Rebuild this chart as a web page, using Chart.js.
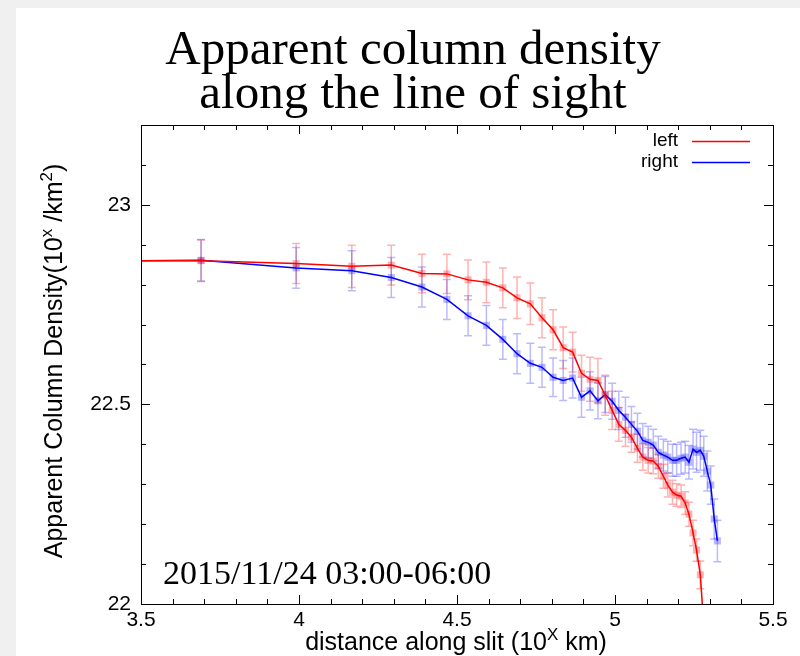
<!DOCTYPE html>
<html><head><meta charset="utf-8">
<script src="https://cdn.jsdelivr.net/npm/chart.js@4/dist/chart.umd.min.js"></script>
<style>
html,body{margin:0;padding:0;background:#f0f0f0;overflow:hidden;}
#card{position:absolute;left:16px;top:8px;width:784px;height:648px;background:#fff;}
#wrap{position:absolute;left:0;top:0;width:800px;height:656px;}
</style></head><body>
<div id="card"></div>
<div id="wrap"><canvas id="c" width="800" height="656"></canvas></div>
<script>
// ---- data ----
const titleLines = ['Apparent column density', 'along the line of sight'];
const annotation = '2015/11/24 03:00-06:00';
const seriesNames = ['left', 'right'];
const xTicks = [3.5, 4, 4.5, 5, 5.5];
const yTicks = [22, 22.5, 23];

// distance along slit, log10(km)
const distance = [3.5, 3.690, 3.991, 4.167, 4.292, 4.389, 4.468, 4.535, 4.593, 4.645,
  4.690, 4.732, 4.769, 4.804, 4.836, 4.866, 4.894, 4.921, 4.946, 4.969,
  4.991, 5.012, 5.033, 5.052, 5.071, 5.088, 5.105, 5.121, 5.137, 5.153,
  5.167, 5.182, 5.195, 5.209, 5.222, 5.234, 5.247, 5.258, 5.270, 5.281,
  5.292, 5.303, 5.314, 5.324];

const leftValues = [22.860, 22.860, 22.853, 22.846, 22.849, 22.828, 22.827, 22.812, 22.806, 22.792,
  22.767, 22.752, 22.717, 22.687, 22.642, 22.631, 22.578, 22.563, 22.560, 22.523,
  22.485, 22.450, 22.435, 22.418, 22.390, 22.368, 22.360, 22.358, 22.345, 22.320,
  22.298, 22.280, 22.273, 22.270, 22.253, 22.225, 22.178, 22.135, 22.073, 21.945];
const leftErrors = [null, 0.052, 0.050, 0.053, 0.050, 0.048, 0.049, 0.050, 0.051, 0.050,
  0.052, 0.052, 0.050, 0.050, 0.052, 0.050, 0.045, 0.055, 0.055, 0.050,
  0.048, 0.042, 0.040, 0.038, 0.035, 0.033, 0.032, 0.032, 0.030, 0.030,
  0.030, 0.030, 0.028, 0.028, 0.028, 0.030, 0.032, 0.028, 0.035, 0.035];

const rightValues = [22.860, 22.861, 22.842, 22.835, 22.818, 22.794, 22.763, 22.722, 22.698, 22.663,
  22.627, 22.603, 22.593, 22.568, 22.560, 22.566, 22.518, 22.534, 22.509, 22.525,
  22.508, 22.485, 22.468, 22.450, 22.433, 22.410, 22.405, 22.398, 22.380, 22.373,
  22.368, 22.360, 22.360, 22.365, 22.368, 22.355, 22.388, 22.380, 22.385, 22.370,
  22.333, 22.298, 22.213, 22.158];
const rightErrors = [null, 0.052, 0.051, 0.050, 0.050, 0.050, 0.050, 0.050, 0.050, 0.050,
  0.050, 0.050, 0.050, 0.048, 0.050, 0.050, 0.050, 0.048, 0.045, 0.045,
  0.045, 0.048, 0.050, 0.045, 0.045, 0.042, 0.040, 0.040, 0.040, 0.040,
  0.040, 0.040, 0.040, 0.040, 0.040, 0.042, 0.050, 0.050, 0.050, 0.050,
  0.050, 0.048, 0.050, 0.052];

// ---- styling ----
const SANS = '"Liberation Sans", Arial, sans-serif';
const SERIF = '"Liberation Serif", "Times New Roman", serif';
const RED = '#ff0000', BLUE = '#0000ff';
const RED_T = 'rgba(255,0,0,0.3)', BLUE_T = 'rgba(0,0,255,0.27)';
const RED_M = 'rgba(255,0,0,0.3)', BLUE_M = 'rgba(0,0,255,0.28)';

function pts(vals) { return vals.map((v, i) => ({ x: distance[i], y: v })); }

const errorsBySet = [leftErrors, rightErrors];
const colorsT = [RED_T, BLUE_T];

function drawRich(ctx, parts, x, y, size, align) {
  const supSize = Math.round(size * 0.66);
  let w = 0;
  parts.forEach(p => { ctx.font = (p.sup ? supSize : size) + 'px ' + SANS; p.w = ctx.measureText(p.t).width; w += p.w; });
  let cx = align === 'center' ? x - w / 2 : x;
  ctx.textAlign = 'left';
  ctx.textBaseline = 'alphabetic';
  parts.forEach(p => {
    ctx.font = (p.sup ? supSize : size) + 'px ' + SANS;
    ctx.fillText(p.t, cx, p.sup ? y - size * 0.42 : y);
    cx += p.w;
  });
}

const decor = {
  id: 'decor',
  beforeDatasetsDraw(chart) {
    const { ctx, chartArea: a, scales: { x, y } } = chart;
    ctx.save();
    ctx.beginPath(); ctx.rect(a.left, a.top, a.right - a.left, a.bottom - a.top); ctx.clip();
    chart.data.datasets.forEach((ds, di) => {
      const errs = errorsBySet[di];
      ctx.strokeStyle = colorsT[di];
      ctx.lineWidth = 1.5;
      ds.data.forEach((p, i) => {
        const e = errs[i];
        if (e == null) return;
        const px = x.getPixelForValue(p.x);
        const y1 = y.getPixelForValue(p.y + e), y2 = y.getPixelForValue(p.y - e);
        ctx.beginPath();
        ctx.moveTo(px, y1); ctx.lineTo(px, y2);
        ctx.moveTo(px - 4, y1); ctx.lineTo(px + 4, y1);
        ctx.moveTo(px - 4, y2); ctx.lineTo(px + 4, y2);
        ctx.stroke();
      });
    });
    ctx.restore();
  },
  afterDraw(chart) {
    const { ctx, chartArea: a, scales: { x, y } } = chart;
    ctx.save();
    // frame
    ctx.strokeStyle = '#000'; ctx.lineWidth = 1;
    ctx.strokeRect(Math.round(a.left) + 0.5, Math.round(a.top) + 0.5, Math.round(a.right - a.left), Math.round(a.bottom - a.top));
    // ticks, major + minor, mirrored on all sides
    ctx.beginPath();
    for (let i = 0; i <= 20; i++) {
      const v = x.min + i * 0.1;
      const px = Math.round(x.getPixelForValue(v)) + 0.5;
      const L = (i % 5 === 0) ? 9 : 5;
      ctx.moveTo(px, a.bottom); ctx.lineTo(px, a.bottom - L);
      ctx.moveTo(px, a.top); ctx.lineTo(px, a.top + L);
    }
    for (let i = 0; i <= 12; i++) {
      const v = y.min + i * 0.1;
      const py = Math.round(y.getPixelForValue(v)) + 0.5;
      const L = (i % 5 === 0) ? 9 : 5;
      ctx.moveTo(a.left, py); ctx.lineTo(a.left + L, py);
      ctx.moveTo(a.right, py); ctx.lineTo(a.right - L, py);
    }
    ctx.stroke();

    ctx.fillStyle = '#000';
    // title
    ctx.font = '49px ' + SERIF;
    ctx.textAlign = 'center'; ctx.textBaseline = 'alphabetic';
    ctx.fillText(titleLines[0], 413, 64);
    ctx.fillText(titleLines[1], 413, 108);
    // annotation
    ctx.font = '34px ' + SERIF;
    ctx.textAlign = 'left';
    ctx.fillText(annotation, 163, 584);
    // axis titles
    drawRich(ctx, [{ t: 'distance along slit (10' }, { t: 'X', sup: true }, { t: ' km)' }], 456, 650, 25, 'center');
    ctx.save();
    ctx.translate(62, 361); ctx.rotate(-Math.PI / 2);
    drawRich(ctx, [{ t: 'Apparent Column Density(10' }, { t: 'x', sup: true }, { t: ' /km' }, { t: '2', sup: true }, { t: ')' }], 0, 0, 25, 'center');
    ctx.restore();
    // legend
    ctx.font = '19px ' + SANS;
    ctx.textAlign = 'right';
    const cols = [RED, BLUE];
    const ly = [141, 162];
    chart.data.datasets.forEach((ds, i) => {
      ctx.fillStyle = '#000';
      ctx.fillText(ds.label, 678, ly[i] + 5);
      ctx.strokeStyle = cols[i]; ctx.lineWidth = 1.3;
      ctx.beginPath(); ctx.moveTo(692, ly[i] + 0.5); ctx.lineTo(750, ly[i] + 0.5); ctx.stroke();
    });
    ctx.restore();
  }
};

const tickFont = { family: SANS, size: 21 };

new Chart(document.getElementById('c'), {
  type: 'line',
  data: {
    datasets: [
      { label: seriesNames[0], data: pts(leftValues), borderColor: RED, borderWidth: 1.5,
        pointStyle: 'rect', pointRadius: c => c.dataIndex === 0 ? 0 : 5, pointBorderWidth: 0,
        pointBackgroundColor: RED_M, tension: 0, clip: 0 },
      { label: seriesNames[1], data: pts(rightValues), borderColor: BLUE, borderWidth: 1.5,
        pointStyle: 'rect', pointRadius: c => c.dataIndex === 0 ? 0 : 5, pointBorderWidth: 0,
        pointBackgroundColor: BLUE_M, tension: 0, clip: 0 }
    ]
  },
  options: {
    responsive: false, animation: false, devicePixelRatio: 1,
    layout: { padding: { top: 125, right: 27, left: 0, bottom: 0 } },
    plugins: { legend: { display: false }, tooltip: { enabled: false }, title: { display: false } },
    scales: {
      x: {
        type: 'linear', min: 3.5, max: 5.5,
        grid: { display: false, drawTicks: false }, border: { display: false },
        ticks: { color: '#000', font: tickFont, padding: 4, maxRotation: 0, autoSkip: false, callback: v => String(v) },
        afterBuildTicks: s => { s.ticks = xTicks.map(v => ({ value: v })); },
        afterFit: s => { s.height = 52; }
      },
      y: {
        type: 'linear', min: 22, max: 23.2,
        grid: { display: false, drawTicks: false }, border: { display: false },
        ticks: { color: '#000', font: tickFont, padding: 10, autoSkip: false, callback: v => String(v) },
        afterBuildTicks: s => { s.ticks = yTicks.map(v => ({ value: v })); },
        afterFit: s => { s.width = 141; }
      }
    }
  },
  plugins: [decor]
});
</script>
</body></html>
